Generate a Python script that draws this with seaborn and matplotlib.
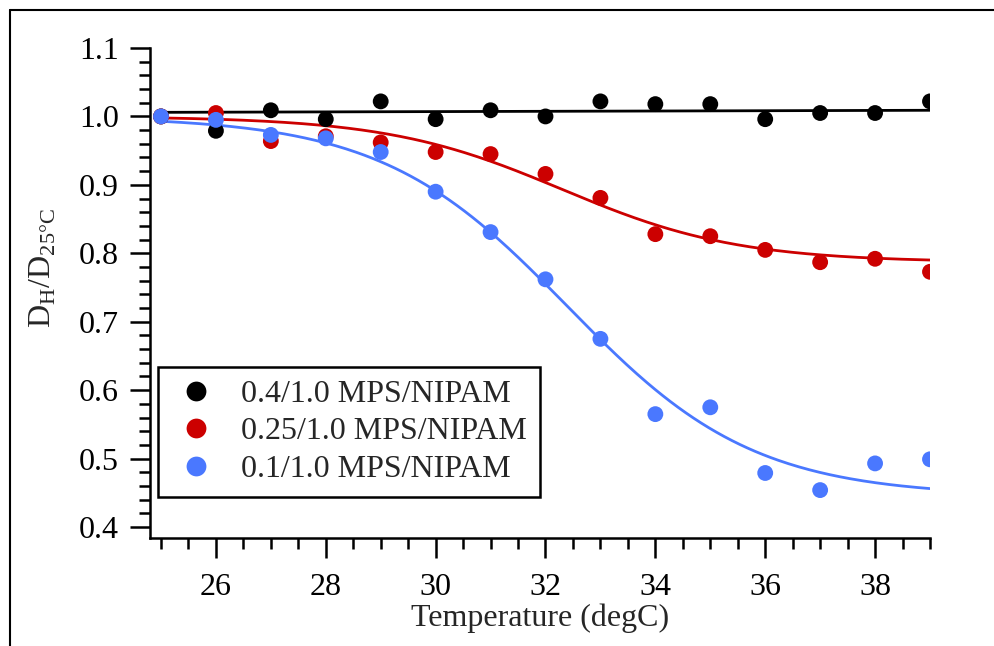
import numpy as np
import pandas as pd
import matplotlib
matplotlib.use("Agg")
import matplotlib.pyplot as plt
from matplotlib.ticker import MultipleLocator
from matplotlib.lines import Line2D
import seaborn as sns

# ---- data ----
temps = [25, 26, 27, 28, 29, 30, 31, 32, 33, 34, 35, 36, 37, 38, 39]
series_names = ["0.4/1.0 MPS/NIPAM", "0.25/1.0 MPS/NIPAM", "0.1/1.0 MPS/NIPAM"]
ratio_040 = [1.000, 0.979, 1.009, 0.996, 1.022, 0.996, 1.009, 1.000, 1.022, 1.018, 1.018, 0.996, 1.005, 1.005, 1.022]
ratio_025 = [1.000, 1.005, 0.964, 0.971, 0.962, 0.948, 0.945, 0.916, 0.881, 0.828, 0.825, 0.805, 0.787, 0.792, 0.773]
ratio_010 = [1.000, 0.995, 0.973, 0.968, 0.948, 0.890, 0.831, 0.762, 0.675, 0.565, 0.575, 0.479, 0.454, 0.493, 0.499]
colors = ["#000000", "#CC0000", "#4A78FF"]

# fit parameters (linear fit for 0.4, Boltzmann sigmoid fits for others)
lin_040 = {"a": 1.006, "b": 0.000214}
boltz_025 = {"A1": 1.0, "A2": 0.787, "x0": 32.3, "dx": 1.6}
boltz_010 = {"A1": 1.0, "A2": 0.445, "x0": 32.4, "dx": 1.7}

df = pd.DataFrame({
    "T": temps * 3,
    "R": ratio_040 + ratio_025 + ratio_010,
    "series": sum([[n] * len(temps) for n in series_names], []),
})

tf = np.linspace(temps[0], temps[-1], 300)
def boltz(x, p):
    return p["A2"] + (p["A1"] - p["A2"]) / (1 + np.exp((x - p["x0"]) / p["dx"]))
fit_df = pd.DataFrame({
    "T": np.concatenate([tf, tf, tf]),
    "R": np.concatenate([lin_040["a"] + lin_040["b"] * (tf - 25), boltz(tf, boltz_025), boltz(tf, boltz_010)]),
    "series": sum([[n] * len(tf) for n in series_names], []),
})

sns.set_theme(style="ticks")
plt.rcParams["font.family"] = ["Liberation Serif", "DejaVu Serif"]
plt.rcParams["mathtext.fontset"] = "custom"
plt.rcParams["mathtext.rm"] = "Liberation Serif"

FS = 23
fig = plt.figure(figsize=(9.95, 6.46), dpi=100)
ax = fig.add_axes([150 / 995, 1 - 538 / 646, 780 / 995, 490 / 646])
pal = dict(zip(series_names, colors))

sns.lineplot(data=fit_df, x="T", y="R", hue="series", palette=pal, lw=2.0, ax=ax, legend=False)
sns.scatterplot(data=df, x="T", y="R", hue="series", palette=pal, s=130, linewidth=0, ax=ax, zorder=3)

ax.xaxis.set_major_locator(MultipleLocator(2))
ax.xaxis.set_minor_locator(MultipleLocator(0.5))
ax.yaxis.set_major_locator(MultipleLocator(0.1))
ax.yaxis.set_minor_locator(MultipleLocator(0.02))
ax.set_xticks([26, 28, 30, 32, 34, 36, 38])
ax.set_yticks([0.4, 0.5, 0.6, 0.7, 0.8, 0.9, 1.0, 1.1])
ax.set_yticklabels(["0.4", "0.5", "0.6", "0.7", "0.8", "0.9", "1.0", "1.1"])
ax.set_ylim(0.384, 1.1)
ax.set_xlim(24.8, 39)

for s in ["top", "right"]:
    ax.spines[s].set_visible(False)
for s in ["left", "bottom"]:
    ax.spines[s].set_linewidth(1.8)
    ax.spines[s].set_color("black")
ax.tick_params(which="major", direction="out", length=14.4, width=1.8, labelsize=FS, colors="black")
ax.tick_params(which="minor", direction="out", length=8, width=1.8, colors="black")
ax.tick_params(axis="x", which="major", pad=11)
ax.tick_params(axis="y", which="major", pad=8)

ax.set_xlabel("Temperature (degC)", fontsize=FS, labelpad=1)
ax.set_ylabel(r"D$_\mathregular{H}$/D$_\mathregular{25°C}$", fontsize=FS)
ax.yaxis.set_label_coords(-0.118, 0.55)

leg = ax.legend(loc="lower left", bbox_to_anchor=(0.010, 0.084), borderaxespad=0,
                fontsize=FS, frameon=True, fancybox=False, framealpha=1,
                markerscale=1.25, handletextpad=0.6, labelspacing=0.26,
                borderpad=0.4, handlelength=1.6)
leg.get_frame().set_edgecolor("black")
leg.get_frame().set_linewidth(1.8)

# outer frame (left and top edges)
fx = 10 / 995
fy = 1 - 10 / 646
fig.add_artist(Line2D([fx, fx], [0, fy], transform=fig.transFigure, color="black", lw=1.5))
fig.add_artist(Line2D([fx, 1], [fy, fy], transform=fig.transFigure, color="black", lw=1.5))

fig.savefig("out.png", dpi=100)
